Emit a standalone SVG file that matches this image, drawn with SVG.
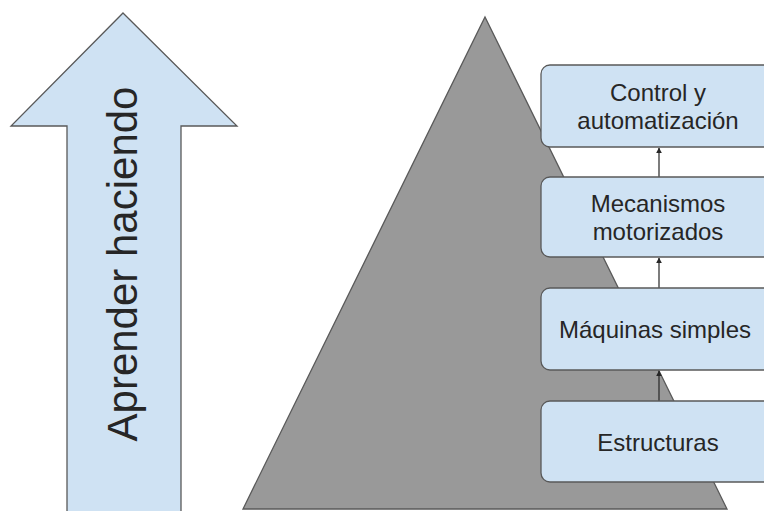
<svg xmlns="http://www.w3.org/2000/svg" width="764" height="511" viewBox="0 0 764 511">
<style>
.box{fill:#cfe2f3;stroke:#595959;stroke-width:1.3}
.lbl{font-family:"Liberation Sans",Arial,sans-serif;font-size:24px;fill:#262626;text-anchor:middle}
.conn{stroke:#262626;stroke-width:1.2;fill:none}
</style>
<defs>
<marker id="ah2" viewBox="0 0 10 10" refX="9" refY="5" markerWidth="6" markerHeight="6" orient="auto" markerUnits="userSpaceOnUse">
<path d="M0,0 L10,5 L0,10 z" fill="#262626"/>
</marker>
</defs>
<rect width="764" height="511" fill="#ffffff"/>
<g id="arrow">
<path d="M123,13 L237,126 L181,126 L181,515 L67,515 L67,126 L11,126 Z" fill="#cfe2f3" stroke="#595959" stroke-width="1.3"/>
<text transform="translate(137,264) rotate(-90)" font-family="'Liberation Sans',Arial,sans-serif" font-size="42" fill="#262626" text-anchor="middle">Aprender haciendo</text>
</g>
<g id="pyramid">
<path d="M485,17 L727,509 L243,509 Z" fill="#999999" stroke="#595959" stroke-width="1.3"/>
</g>
<g id="connectors">
<line class="conn" x1="659" y1="177" x2="659" y2="148" marker-end="url(#ah2)"/>
<line class="conn" x1="659" y1="288" x2="659" y2="258" marker-end="url(#ah2)"/>
<line class="conn" x1="659" y1="401" x2="659" y2="371" marker-end="url(#ah2)"/>
</g>
<g id="control">
<rect class="box" x="541" y="65" width="234" height="82" rx="9"/>
<text class="lbl" x="658" y="101">Control y</text>
<text class="lbl" x="658" y="129">automatización</text>
</g>
<g id="mecanismos">
<rect class="box" x="541" y="177" width="234" height="80" rx="9"/>
<text class="lbl" x="658" y="212">Mecanismos</text>
<text class="lbl" x="658" y="240">motorizados</text>
</g>
<g id="maquinas">
<rect class="box" x="541" y="288" width="234" height="82" rx="9"/>
<text class="lbl" x="655" y="338">Máquinas simples</text>
</g>
<g id="estructuras">
<rect class="box" x="541" y="401" width="234" height="81" rx="9"/>
<text class="lbl" x="658" y="451">Estructuras</text>
</g>
</svg>
